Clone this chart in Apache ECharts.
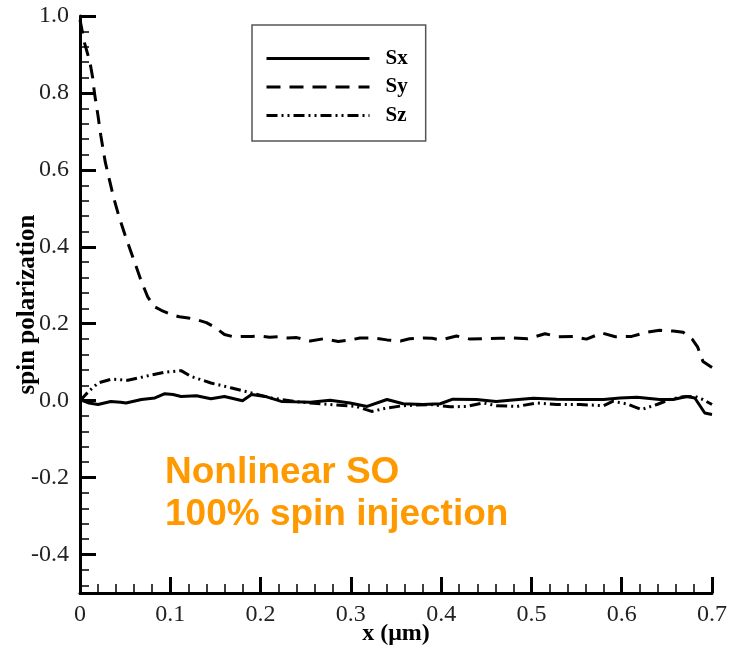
<!DOCTYPE html>
<html>
<head>
<meta charset="utf-8">
<script src="https://cdn.jsdelivr.net/npm/echarts@6/dist/echarts.min.js"></script>
<style>
  html, body { margin: 0; padding: 0; background: #fff; }
  #chart { width: 732px; height: 648px; }
</style>
</head>
<body>
<div id="chart"></div>
<script>
// Sx (solid)
var sxX = [0, 0.01, 0.02, 0.034, 0.045, 0.051, 0.068, 0.083, 0.094, 0.103, 0.112, 0.129, 0.145, 0.16, 0.18, 0.19, 0.205, 0.223, 0.238, 0.255, 0.277, 0.299, 0.318, 0.34, 0.358, 0.38, 0.399, 0.413, 0.439, 0.461, 0.476, 0.502, 0.528, 0.554, 0.58, 0.598, 0.617, 0.642, 0.657, 0.672, 0.681, 0.692, 0.7]
var sxY = [0.003, -0.006, -0.01, -0.002, -0.004, -0.006, 0.003, 0.007, 0.018, 0.016, 0.011, 0.013, 0.005, 0.011, 0.0, 0.016, 0.011, -0.002, -0.003, -0.004, 0.001, -0.006, -0.015, 0.003, -0.008, -0.01, -0.008, 0.004, 0.003, -0.002, 0.001, 0.006, 0.004, 0.003, 0.003, 0.007, 0.009, 0.003, 0.003, 0.011, 0.007, -0.032, -0.036]
// Sy (dashed)
var syX = [0, 0.005, 0.011, 0.014, 0.016, 0.02, 0.023, 0.028, 0.033, 0.037, 0.043, 0.05, 0.056, 0.062, 0.068, 0.075, 0.082, 0.09, 0.1, 0.11, 0.12, 0.13, 0.14, 0.15, 0.16, 0.17, 0.18, 0.19, 0.2, 0.21, 0.22, 0.23, 0.24, 0.255, 0.27, 0.286, 0.3, 0.31, 0.325, 0.34, 0.355, 0.365, 0.38, 0.39, 0.4, 0.417, 0.432, 0.45, 0.465, 0.48, 0.496, 0.515, 0.53, 0.546, 0.561, 0.578, 0.593, 0.611, 0.626, 0.642, 0.657, 0.668, 0.678, 0.684, 0.69, 0.7]
var syY = [0.99, 0.93, 0.88, 0.84, 0.80, 0.74, 0.69, 0.62, 0.57, 0.53, 0.48, 0.43, 0.39, 0.35, 0.31, 0.27, 0.245, 0.235, 0.225, 0.218, 0.215, 0.21, 0.203, 0.19, 0.172, 0.166, 0.167, 0.167, 0.168, 0.165, 0.166, 0.163, 0.164, 0.155, 0.161, 0.154, 0.158, 0.163, 0.163, 0.158, 0.155, 0.161, 0.163, 0.162, 0.158, 0.168, 0.16, 0.161, 0.162, 0.163, 0.161, 0.174, 0.166, 0.167, 0.16, 0.176, 0.166, 0.167, 0.177, 0.183, 0.181, 0.178, 0.16, 0.14, 0.102, 0.086]
// Sz (dash-dot-dot)
var szX = [0, 0.01, 0.02, 0.035, 0.053, 0.072, 0.094, 0.112, 0.123, 0.145, 0.168, 0.19, 0.212, 0.238, 0.255, 0.277, 0.306, 0.323, 0.34, 0.358, 0.388, 0.41, 0.428, 0.447, 0.461, 0.484, 0.506, 0.528, 0.554, 0.58, 0.59, 0.605, 0.622, 0.639, 0.653, 0.668, 0.681, 0.69, 0.7]
var szY = [0.0, 0.025, 0.046, 0.056, 0.053, 0.063, 0.074, 0.078, 0.063, 0.046, 0.033, 0.02, 0.007, -0.002, -0.006, -0.01, -0.015, -0.028, -0.019, -0.013, -0.01, -0.016, -0.015, -0.006, -0.013, -0.015, -0.006, -0.01, -0.01, -0.013, -0.002, -0.008, -0.023, -0.01, 0.003, 0.01, 0.011, 0.003, -0.01]

var seriesNames = ['Sx', 'Sy', 'Sz']
var noteText = 'Nonlinear SO\n100% spin injection'

function zip(xs, ys) {
  return xs.map(function (x, i) { return [x, ys[i]] })
}

var serif = 'Liberation Serif'
var chart = echarts.init(document.getElementById('chart'), null, { renderer: 'canvas' })

var axisCommon = {
  nameMoveOverlap: false,
  axisLine: { onZero: false, lineStyle: { color: '#000', width: 3 } },
  axisTick: { inside: true, length: 16, lineStyle: { color: '#000', width: 3 } },
  minorTick: { show: true, splitNumber: 5, length: 9, lineStyle: { color: '#000', width: 1.5 } },
  splitLine: { show: false }
}

var option = {
  animation: false,
  backgroundColor: '#fff',
  title: {
    text: noteText,
    left: 160,
    top: 447,
    textStyle: { color: '#ff9900', fontSize: 37, fontWeight: 'bold', fontFamily: 'Liberation Sans', lineHeight: 42 }
  },
  legend: {
    data: seriesNames,
    orient: 'vertical',
    left: 252,
    top: 25,
    padding: [23, 18, 15, 13],
    itemWidth: 103,
    itemHeight: 14,
    itemGap: 7.5,
    borderColor: '#555',
    borderWidth: 1.5,
    backgroundColor: '#fff',
    itemStyle: { opacity: 0 },
    lineStyle: { width: 3 },
    textStyle: { fontFamily: serif, fontWeight: 'bold', fontSize: 21, lineHeight: 20, color: '#000', padding: [0, 0, 0, 11] }
  },
  grid: { left: 80, right: 20, top: 16, bottom: 55, containLabel: false, outerBoundsMode: 'none' },
  xAxis: Object.assign({}, axisCommon, {
    type: 'value',
    min: 0,
    max: 0.7,
    interval: 0.1,
    name: 'x (\u03bcm)',
    nameLocation: 'middle',
    nameGap: 29,
    nameTextStyle: { fontFamily: serif, fontWeight: 'bold', color: '#000', fontSize: 24 },
    axisLabel: {
      margin: 10,
      fontFamily: serif,
      fontSize: 24,
      color: '#222',
      formatter: function (v) { return v === 0 ? '0' : v.toFixed(1) }
    }
  }),
  yAxis: Object.assign({}, axisCommon, {
    type: 'value',
    min: -0.5,
    max: 1.0,
    splitNumber: 7,
    name: 'spin polarization',
    nameLocation: 'middle',
    nameRotate: 90,
    nameGap: 40,
    nameTextStyle: { fontFamily: serif, fontWeight: 'bold', color: '#000', fontSize: 25 },
    axisLabel: {
      margin: 11,
      fontFamily: serif,
      fontSize: 24,
      color: '#222',
      showMinLabel: false,
      formatter: function (v) { return Math.abs(v + 0.5) < 1e-9 ? '' : v.toFixed(1) }
    }
  }),
  series: [
    {
      name: 'Sx', type: 'line', data: zip(sxX, sxY), symbol: 'none',
      lineStyle: { color: '#000', width: 3 }, itemStyle: { color: '#000' }
    },
    {
      name: 'Sy', type: 'line', data: zip(syX, syY), symbol: 'none',
      lineStyle: { color: '#000', width: 3, type: [14, 9] }, itemStyle: { color: '#000' }
    },
    {
      name: 'Sz', type: 'line', data: zip(szX, szY), symbol: 'none',
      lineStyle: { color: '#000', width: 3, type: [11, 4, 2, 4, 2, 4] }, itemStyle: { color: '#000' }
    }
  ]
}

chart.setOption(option)
</script>
</body>
</html>
